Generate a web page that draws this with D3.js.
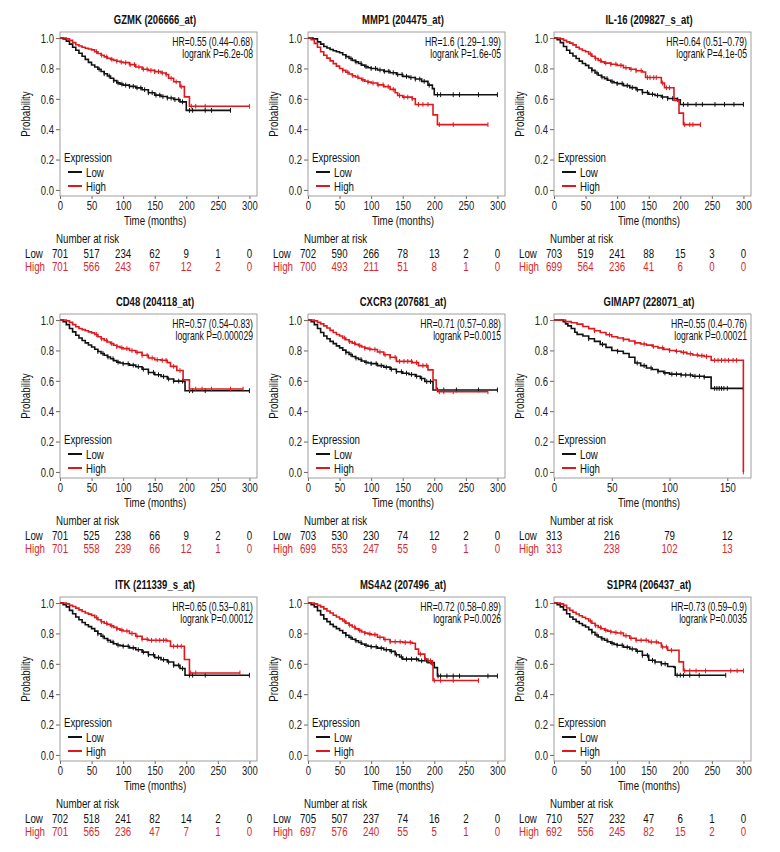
<!DOCTYPE html>
<html><head><meta charset="utf-8">
<script src="https://cdn.jsdelivr.net/npm/d3@7"></script>
<style>
body{margin:0;background:#fff;}
svg text{font-family:"Liberation Sans",Arial,sans-serif;}
</style></head><body><svg id="c" width="780" height="852"></svg>
<script>
// ---------- DATA ----------
const titles = ["GZMK (206666_at)","MMP1 (204475_at)","IL-16 (209827_s_at)","CD48 (204118_at)","CXCR3 (207681_at)","GIMAP7 (228071_at)","ITK (211339_s_at)","MS4A2 (207496_at)","S1PR4 (206437_at)"];
const hrLabels = ["HR=0.55 (0.44–0.68)","HR=1.6 (1.29–1.99)","HR=0.64 (0.51–0.79)","HR=0.57 (0.54–0.83)","HR=0.71 (0.57–0.88)","HR=0.55 (0.4–0.76)","HR=0.65 (0.53–0.81)","HR=0.72 (0.58–0.89)","HR=0.73 (0.59–0.9)"];
const pLabels = ["logrank P=6.2e-08","logrank P=1.6e-05","logrank P=4.1e-05","logrank P=0.000029","logrank P=0.0015","logrank P=0.00021","logrank P=0.00012","logrank P=0.0026","logrank P=0.0035"];
const xLimits = [312,312,312,312,312,170.5,312,312,312];
const timeTicks300 = [0,50,100,150,200,250,300];
const timeTicks150 = [0,50,100,150];
const probTicks = [0,0.2,0.4,0.6,0.8,1.0];
const groupNames = ["Low","High"];

// survival step knots [time, probability]
const gzmkLow = [[0,1],[5,0.995],[10,0.98],[15,0.96],[20,0.94],[25,0.92],[30,0.9],[35,0.88],[40,0.86],[45,0.84],[50,0.823],[55,0.81],[60,0.795],[65,0.78],[70,0.765],[75,0.75],[80,0.735],[85,0.72],[90,0.705],[95,0.697],[100,0.69],[110,0.682],[120,0.672],[130,0.66],[140,0.64],[150,0.624],[160,0.615],[170,0.605],[180,0.595],[190,0.58],[200,0.524],[270,0.524]];
const gzmkHigh = [[0,1],[10,0.995],[15,0.985],[20,0.97],[25,0.956],[30,0.948],[35,0.94],[40,0.933],[45,0.928],[50,0.922],[55,0.91],[60,0.898],[65,0.887],[70,0.876],[75,0.867],[80,0.86],[85,0.853],[90,0.847],[95,0.842],[100,0.838],[110,0.825],[120,0.81],[130,0.795],[140,0.787],[150,0.779],[160,0.77],[168,0.76],[172,0.735],[180,0.712],[190,0.68],[197,0.613],[205,0.551],[300,0.551]];
const mmp1Low = [[0,1],[8,0.995],[15,0.975],[20,0.96],[25,0.945],[30,0.935],[35,0.925],[40,0.917],[45,0.91],[50,0.903],[55,0.89],[60,0.878],[65,0.865],[70,0.853],[75,0.843],[80,0.833],[85,0.822],[90,0.812],[95,0.805],[100,0.8],[110,0.79],[120,0.781],[130,0.772],[140,0.76],[150,0.748],[160,0.74],[170,0.73],[180,0.715],[190,0.69],[197,0.667],[200,0.627],[300,0.627]];
const mmp1High = [[0,1],[5,0.99],[10,0.965],[15,0.94],[20,0.91],[25,0.887],[30,0.868],[35,0.85],[40,0.832],[45,0.815],[50,0.8],[55,0.787],[60,0.775],[65,0.763],[70,0.752],[75,0.744],[80,0.735],[85,0.725],[90,0.716],[95,0.71],[100,0.704],[110,0.692],[120,0.68],[130,0.662],[138,0.64],[142,0.622],[150,0.611],[165,0.6],[170,0.563],[197,0.563],[198,0.494],[205,0.43],[285,0.43]];
const il16Low = [[0,1],[5,0.99],[10,0.97],[15,0.945],[20,0.92],[25,0.9],[30,0.882],[35,0.865],[40,0.848],[45,0.833],[50,0.82],[55,0.803],[60,0.787],[65,0.77],[70,0.755],[75,0.744],[80,0.733],[85,0.722],[90,0.713],[95,0.706],[100,0.7],[110,0.687],[120,0.674],[130,0.66],[140,0.642],[150,0.63],[160,0.622],[170,0.612],[180,0.602],[195,0.594],[200,0.563],[300,0.563]];
const il16High = [[0,1],[10,0.995],[15,0.985],[20,0.975],[25,0.967],[30,0.955],[35,0.94],[40,0.928],[45,0.918],[50,0.91],[55,0.895],[60,0.88],[65,0.865],[70,0.853],[75,0.843],[80,0.835],[90,0.828],[100,0.82],[110,0.805],[120,0.795],[130,0.785],[140,0.777],[145,0.74],[168,0.74],[170,0.704],[175,0.673],[188,0.673],[190,0.59],[198,0.506],[205,0.43],[232,0.43]];
const cd48Low = [[0,1],[5,0.99],[10,0.97],[15,0.945],[20,0.922],[25,0.9],[30,0.882],[35,0.865],[40,0.85],[45,0.836],[50,0.823],[55,0.808],[60,0.793],[65,0.78],[70,0.768],[75,0.757],[80,0.745],[85,0.733],[90,0.723],[95,0.717],[100,0.712],[110,0.703],[120,0.693],[130,0.676],[140,0.655],[150,0.64],[160,0.628],[170,0.612],[180,0.598],[196,0.595],[198,0.535],[300,0.535]];
const cd48High = [[0,1],[10,0.995],[15,0.985],[20,0.97],[25,0.956],[30,0.945],[35,0.937],[40,0.93],[45,0.922],[50,0.916],[55,0.905],[60,0.89],[65,0.877],[70,0.866],[75,0.856],[80,0.845],[85,0.834],[90,0.825],[95,0.818],[100,0.812],[110,0.8],[120,0.787],[130,0.768],[140,0.75],[150,0.739],[160,0.735],[170,0.72],[175,0.695],[185,0.668],[195,0.606],[205,0.546],[290,0.546]];
const cxcr3Low = [[0,1],[5,0.99],[10,0.97],[15,0.945],[20,0.918],[25,0.895],[30,0.877],[35,0.86],[40,0.845],[45,0.83],[50,0.817],[55,0.802],[60,0.787],[65,0.773],[70,0.76],[75,0.75],[80,0.74],[85,0.73],[90,0.722],[95,0.717],[100,0.713],[110,0.7],[120,0.69],[130,0.676],[140,0.66],[150,0.65],[160,0.642],[170,0.63],[178,0.615],[185,0.595],[197,0.595],[198,0.54],[300,0.54]];
const cxcr3High = [[0,1],[10,0.995],[15,0.985],[20,0.975],[25,0.962],[30,0.948],[35,0.932],[40,0.918],[45,0.905],[50,0.895],[55,0.882],[60,0.87],[65,0.858],[70,0.848],[75,0.84],[80,0.832],[85,0.823],[90,0.815],[95,0.81],[100,0.806],[110,0.79],[120,0.772],[130,0.755],[140,0.728],[165,0.72],[175,0.7],[190,0.672],[198,0.605],[203,0.539],[207,0.528],[285,0.528]];
const gimap7Low = [[0,1],[5,1],[8,0.99],[10,0.975],[12,0.962],[15,0.945],[18,0.92],[20,0.906],[25,0.895],[30,0.877],[35,0.86],[40,0.84],[45,0.82],[50,0.8],[55,0.795],[60,0.78],[65,0.755],[70,0.717],[75,0.7],[80,0.684],[85,0.675],[90,0.662],[95,0.652],[100,0.644],[110,0.638],[120,0.63],[130,0.624],[136,0.55],[163.9,0.55]];
const gimap7High = [[0,1],[10,0.99],[15,0.982],[20,0.973],[25,0.958],[30,0.944],[35,0.93],[40,0.918],[45,0.903],[50,0.89],[55,0.882],[60,0.873],[65,0.862],[70,0.85],[75,0.842],[80,0.835],[85,0.826],[90,0.817],[95,0.807],[100,0.8],[105,0.795],[110,0.787],[115,0.778],[120,0.77],[125,0.766],[130,0.76],[136,0.735],[163.9,0.735],[163.9,0]];
const itkLow = [[0,1],[5,0.99],[10,0.975],[15,0.952],[20,0.93],[25,0.908],[30,0.89],[35,0.872],[40,0.857],[45,0.845],[50,0.832],[55,0.815],[60,0.798],[65,0.782],[70,0.767],[75,0.755],[80,0.743],[85,0.732],[90,0.724],[95,0.72],[100,0.716],[110,0.705],[120,0.693],[130,0.677],[140,0.66],[150,0.641],[160,0.627],[170,0.612],[180,0.59],[190,0.569],[198,0.525],[300,0.525]];
const itkHigh = [[0,1],[10,0.995],[15,0.985],[20,0.977],[25,0.967],[30,0.955],[35,0.945],[40,0.935],[45,0.927],[50,0.919],[55,0.905],[60,0.89],[65,0.877],[70,0.867],[75,0.86],[80,0.85],[85,0.84],[90,0.83],[95,0.822],[100,0.816],[110,0.8],[120,0.782],[130,0.762],[140,0.755],[170,0.75],[175,0.716],[195,0.716],[197,0.628],[205,0.54],[285,0.54]];
const ms4a2Low = [[0,1],[5,0.99],[10,0.975],[15,0.95],[20,0.922],[25,0.896],[30,0.878],[35,0.86],[40,0.845],[45,0.832],[50,0.819],[55,0.804],[60,0.788],[65,0.773],[70,0.762],[75,0.752],[80,0.74],[85,0.73],[90,0.722],[95,0.716],[100,0.712],[110,0.703],[120,0.693],[130,0.682],[138,0.66],[145,0.645],[150,0.631],[175,0.62],[190,0.608],[200,0.575],[205,0.52],[300,0.52]];
const ms4a2High = [[0,1],[10,0.995],[15,0.985],[20,0.975],[25,0.962],[30,0.948],[35,0.935],[40,0.92],[45,0.908],[50,0.896],[55,0.882],[60,0.868],[65,0.855],[70,0.842],[75,0.83],[80,0.82],[85,0.81],[90,0.802],[95,0.797],[100,0.792],[110,0.775],[120,0.76],[130,0.745],[150,0.741],[165,0.735],[170,0.697],[175,0.664],[185,0.631],[190,0.62],[197,0.593],[198,0.49],[270,0.49]];
const s1pr4Low = [[0,1],[5,0.99],[10,0.975],[15,0.955],[20,0.93],[25,0.908],[30,0.893],[35,0.878],[40,0.865],[45,0.853],[50,0.842],[55,0.825],[60,0.808],[65,0.79],[70,0.777],[75,0.766],[80,0.755],[85,0.745],[90,0.736],[95,0.728],[100,0.722],[110,0.71],[120,0.698],[130,0.683],[140,0.656],[150,0.623],[160,0.612],[170,0.6],[180,0.582],[190,0.578],[192,0.525],[272,0.525]];
const s1pr4High = [[0,1],[10,0.995],[15,0.985],[20,0.968],[25,0.952],[30,0.94],[35,0.928],[40,0.917],[45,0.907],[50,0.897],[55,0.882],[60,0.867],[65,0.852],[70,0.84],[75,0.831],[80,0.822],[85,0.815],[90,0.81],[95,0.806],[100,0.803],[110,0.785],[120,0.768],[130,0.755],[150,0.744],[165,0.737],[170,0.711],[180,0.689],[195,0.689],[198,0.613],[204,0.613],[205,0.554],[300,0.554]];

// censoring times
const gzmkLowCens = [62,70,78,85,92,98,104,110,116,122,128,134,140,146,152,158,163,170,176,182,188,194,205,210,230,240,270];
const gzmkHighCens = [58,66,74,82,90,97,104,111,118,125,132,138,144,150,156,162,168,176,184,192,208,215,230,300];
const mmp1LowCens = [60,68,76,84,92,100,107,114,121,128,135,142,149,156,163,170,177,184,192,205,210,230,240,270,300];
const mmp1HighCens = [55,63,71,79,87,95,103,111,119,127,135,145,152,158,165,175,182,190,208,230,285];
const il16LowCens = [60,68,76,84,92,100,108,116,124,132,140,148,156,164,172,180,188,196,205,212,225,235,255,270,285,300];
const il16HighCens = [58,66,74,82,90,98,106,114,122,130,138,148,152,158,162,172,178,183,207,215,220,232];
const cd48LowCens = [60,68,76,84,92,100,108,116,124,132,140,148,156,164,172,180,188,194,205,210,230,300];
const cd48HighCens = [58,66,74,82,90,98,106,114,122,130,138,146,154,162,168,180,190,205,215,225,240,270,290];
const cxcr3LowCens = [60,68,76,84,92,100,108,116,124,132,140,148,156,164,172,180,188,194,205,215,235,270,300];
const cxcr3HighCens = [58,66,74,82,90,98,106,114,122,130,138,145,152,158,164,172,182,188,208,215,230,285];
const gimap7LowCens = [30,42,55,72,78,84,90,96,102,106,110,114,118,122,126,130,139,141,143,145,147,150,163.9];
const gimap7HighCens = [35,48,60,70,78,86,94,100,106,112,118,124,128,132,139,142,145,148,151,155,158,163.9];
const itkLowCens = [60,68,76,84,92,100,108,116,124,132,140,148,156,164,172,180,188,194,205,210,230,300];
const itkHighCens = [58,66,74,82,90,98,106,114,122,130,138,145,152,158,164,168,180,186,192,207,215,285];
const ms4a2LowCens = [60,68,76,84,92,100,108,116,124,132,140,148,156,164,172,180,188,195,206,210,220,230,240,285,300];
const ms4a2HighCens = [58,66,74,82,90,98,106,114,122,130,138,146,154,162,178,186,194,200,210,230,270];
const s1pr4LowCens = [60,68,76,84,92,100,108,116,124,132,140,148,156,160,170,176,195,200,205,215,230,272];
const s1pr4HighCens = [58,66,74,82,90,98,106,114,122,130,138,146,154,162,172,178,186,207,215,225,240,280,290,300];

// numbers at risk
const gzmkRisk = [[701,517,234,62,9,1,0],[701,566,243,67,12,2,0]];
const mmp1Risk = [[702,590,266,78,13,2,0],[700,493,211,51,8,1,0]];
const il16Risk = [[703,519,241,88,15,3,0],[699,564,236,41,6,0,0]];
const cd48Risk = [[701,525,238,66,9,2,0],[701,558,239,66,12,1,0]];
const cxcr3Risk = [[703,530,230,74,12,2,0],[699,553,247,55,9,1,0]];
const gimap7Risk = [[313,216,79,12],[313,238,102,13]];
const itkRisk = [[702,518,241,82,14,2,0],[701,565,236,47,7,1,0]];
const ms4a2Risk = [[705,507,237,74,16,2,0],[697,576,240,55,5,1,0]];
const s1pr4Risk = [[710,527,232,47,6,1,0],[692,556,245,82,15,2,0]];

// ---------- assemble ----------
const lowCurves = [gzmkLow,mmp1Low,il16Low,cd48Low,cxcr3Low,gimap7Low,itkLow,ms4a2Low,s1pr4Low];
const highCurves = [gzmkHigh,mmp1High,il16High,cd48High,cxcr3High,gimap7High,itkHigh,ms4a2High,s1pr4High];
const lowCens = [gzmkLowCens,mmp1LowCens,il16LowCens,cd48LowCens,cxcr3LowCens,gimap7LowCens,itkLowCens,ms4a2LowCens,s1pr4LowCens];
const highCens = [gzmkHighCens,mmp1HighCens,il16HighCens,cd48HighCens,cxcr3HighCens,gimap7HighCens,itkHighCens,ms4a2HighCens,s1pr4HighCens];
const risks = [gzmkRisk,mmp1Risk,il16Risk,cd48Risk,cxcr3Risk,gimap7Risk,itkRisk,ms4a2Risk,s1pr4Risk];

const RED = "#e0181e", RED_TXT = "#d42a2f", BLACK = "#111";
const colX = [60, 308, 554], rowY = [32, 314, 597];
const BW = 197, BH = 164;
const SQ = 0.72; // horizontal condensing of text
const FS = 13.2;
const svg = d3.select("#c");

function stepValue(curve, t){
  const i = d3.bisectRight(curve.map(d=>d[0]), t) - 1;
  return curve[Math.max(0,i)][1];
}

titles.forEach((title, k) => {
  const c = k % 3, r = Math.floor(k / 3);
  const bl = colX[c], bt = rowY[r];
  const g = svg.append("g");
  const x = d3.scaleLinear().domain([0, xLimits[k]]).range([bl, bl + BW]);
  const y = d3.scaleLinear().domain([-0.04, 1.04]).range([bt + BH, bt]);
  const ticks = xLimits[k] > 200 ? timeTicks300 : timeTicks150;

  g.append("text").attr("x", bl + 95).attr("y", bt - 8).attr("text-anchor","middle")
    .attr("font-size", 13.2).attr("font-weight","bold").attr("fill","#111").text(title);

  const ya = g.append("g").attr("transform", `translate(${bl},0)`)
    .call(d3.axisLeft(y).tickValues(probTicks).tickFormat(d3.format(".1f")).tickSize(4).tickPadding(2));
  ya.select(".domain").remove();
  ya.selectAll("line").attr("stroke","#666");
  ya.selectAll("text").attr("font-size", FS).attr("fill","#222").attr("font-family",null);
  const xa = g.append("g").attr("transform", `translate(0,${bt + BH})`)
    .call(d3.axisBottom(x).tickValues(ticks).tickFormat(d3.format("d")).tickSize(3).tickPadding(2));
  xa.select(".domain").remove();
  xa.selectAll("line").attr("stroke","#666");
  xa.selectAll("text").attr("font-size", FS).attr("fill","#222").attr("font-family",null);

  g.append("rect").attr("x", bl).attr("y", bt).attr("width", BW).attr("height", BH)
    .attr("fill","none").attr("stroke","#888").attr("stroke-width",0.8);

  g.append("text").attr("x", bl + 95).attr("y", bt + BH + 29.5).attr("text-anchor","middle")
    .attr("font-size", FS + 0.3).attr("fill","#111").text("Time (months)");
  g.append("text").attr("class","rot").attr("transform", `translate(${bl - 30},${bt + BH/2}) rotate(-90) scale(${SQ},1)`)
    .attr("text-anchor","middle").attr("font-size", FS + 0.3).attr("fill","#111").text("Probability");

  g.append("text").attr("x", bl + BW - 4).attr("y", bt + 14).attr("text-anchor","end")
    .attr("font-size", 12).attr("fill","#111").text(hrLabels[k]);
  g.append("text").attr("x", bl + BW - 4).attr("y", bt + 26).attr("text-anchor","end")
    .attr("font-size", 12).attr("fill","#111").text(pLabels[k]);

  const line = d3.line().curve(d3.curveStepAfter).x(d => x(d[0])).y(d => y(d[1]));
  [[lowCurves[k], lowCens[k], BLACK], [highCurves[k], highCens[k], RED]].forEach(([curve, cens, col]) => {
    g.append("path").attr("d", line(curve)).attr("fill","none").attr("stroke", col).attr("stroke-width", 1.6);
    g.append("g").selectAll("line").data(cens).join("line")
      .attr("x1", d => x(d)).attr("x2", d => x(d))
      .attr("y1", d => y(stepValue(curve, d)) - 2.4).attr("y2", d => y(stepValue(curve, d)) + 2.4)
      .attr("stroke", col).attr("stroke-width", 1);
  });

  g.append("text").attr("x", bl + 4).attr("y", bt + 130.5).attr("font-size", FS + 0.3).attr("fill","#111").text("Expression");
  groupNames.forEach((name, j) => {
    const ly = bt + 140 + j * 14;
    g.append("line").attr("x1", bl + 8).attr("x2", bl + 22).attr("y1", ly).attr("y2", ly)
      .attr("stroke", j === 0 ? BLACK : RED).attr("stroke-width", 2);
    g.append("text").attr("x", bl + 26).attr("y", ly + 4.8).attr("font-size", FS + 0.3).attr("fill","#111").text(name);
  });

  g.append("text").attr("x", bl - 4).attr("y", bt + BH + 47.5).attr("font-size", FS + 0.3).attr("fill","#111").text("Number at risk");
  groupNames.forEach((name, j) => {
    const ty = bt + BH + 62 + j * 13.5;
    const col = j === 0 ? "#111" : RED_TXT;
    g.append("text").attr("x", bl - 35).attr("y", ty).attr("font-size", FS + 0.3).attr("fill", col).text(name);
    g.append("g").selectAll("text").data(risks[k][j]).join("text")
      .attr("x", (d, i) => x(ticks[i])).attr("y", ty).attr("text-anchor","middle")
      .attr("font-size", FS + 0.3).attr("fill", col).text(d => d);
  });
});

// condense all non-rotated texts horizontally around their anchor x
svg.selectAll("text:not(.rot)").each(function(){
  const t = d3.select(this);
  const x0 = +t.attr("x") || 0;
  t.attr("transform", `translate(${x0},0) scale(${SQ},1) translate(${-x0},0)`);
});
</script></body></html>
